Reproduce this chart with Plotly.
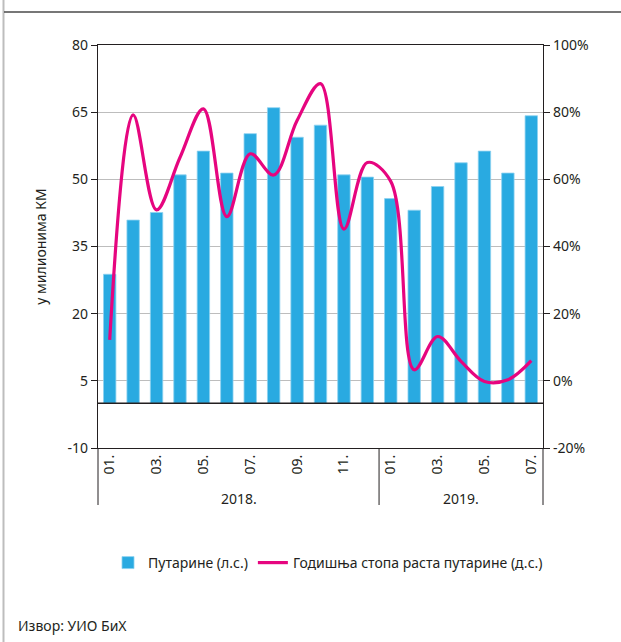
import plotly.graph_objects as go

# ---- data ----
periods = ["2018-01", "2018-02", "2018-03", "2018-04", "2018-05", "2018-06",
           "2018-07", "2018-08", "2018-09", "2018-10", "2018-11", "2018-12",
           "2019-01", "2019-02", "2019-03", "2019-04", "2019-05", "2019-06", "2019-07"]
month_labels = ["01.", "", "03.", "", "05.", "", "07.", "", "09.", "", "11.", "",
                "01.", "", "03.", "", "05.", "", "07."]
year_labels = ["2018.", "2019."]
tolls = [28.8, 40.9, 42.6, 51.0, 56.3, 51.4, 60.2, 66.0, 59.4, 62.1, 51.0, 50.5,
         45.7, 43.1, 48.4, 53.7, 56.3, 51.4, 64.2]
growth = [12.2, 79.2, 50.9, 66.5, 81.0, 48.9, 67.6, 61.3, 77.5, 88.5, 45.2, 65.0,
          59.4, 3.3, 13.2, 5.8, -0.2, 0.3, 6.0]
left_ticks = [-10, 5, 20, 35, 50, 65, 80]
left_tick_text = ["-10", "5", "20", "35", "50", "65", "80"]
right_ticks = [-20, 0, 20, 40, 60, 80, 100]
right_tick_text = ["-20%", "0%", "20%", "40%", "60%", "80%", "100%"]

W, H = 621, 642
L, R, T, B = 98, 543, 45, 448  # plot area in px


def px_x(x):
    return (x - L) / (R - L)


def px_y(y):
    return (B - y) / (B - T)


FONT = "Noto Sans"
TXT = "#231F20"

fig = go.Figure()
fig.add_trace(go.Bar(
    x=periods, y=tolls, name="Путарине (л.с.)",
    marker=dict(color="#29AAE1", line=dict(color="#8ED2F0", width=0.8)),
    yaxis="y",
))
fig.add_trace(go.Scatter(
    x=periods, y=growth, name="Годишња стопа раста путарине (д.с.)",
    mode="lines", line=dict(color="#E6057F", width=3.2, shape="spline", smoothing=1.0),
    yaxis="y2",
))

n = len(periods)
shapes = [
    # left page border
    dict(type="line", xref="paper", yref="paper", x0=px_x(3.5), x1=px_x(3.5),
         y0=px_y(0), y1=px_y(H), line=dict(color="#BDBDBD", width=2)),
    # top rule
    dict(type="line", xref="paper", yref="paper", x0=px_x(4), x1=px_x(W),
         y0=px_y(12), y1=px_y(12), line=dict(color="#4A4A4A", width=1.5)),
    # zero baseline above bars
    dict(type="line", xref="paper", yref="y", x0=0, x1=1, y0=0, y1=0,
         layer="above", line=dict(color="#231F20", width=1.5)),
]
# category-group separators
for k in [0, 12, n]:
    xp = k / n
    shapes.append(dict(type="line", xref="paper", yref="paper", x0=xp, x1=xp,
                       y0=0, y1=px_y(505), line=dict(color="#231F20", width=1)))

annotations = [
    dict(text=year_labels[0], xref="x", yref="paper", x=5.5, y=px_y(498),
         yanchor="middle", showarrow=False, font=dict(size=14, color=TXT, family=FONT)),
    dict(text=year_labels[1], xref="x", yref="paper", x=15, y=px_y(498),
         yanchor="middle", showarrow=False, font=dict(size=14, color=TXT, family=FONT)),
    dict(text="Извор: УИО БиХ", xref="paper", yref="paper", x=px_x(16), y=px_y(625),
         xanchor="left", yanchor="middle", showarrow=False,
         font=dict(size=14, color=TXT, family=FONT)),
]

fig.update_layout(
    width=W, height=H,
    margin=dict(l=L, r=W - R, t=T, b=H - B, pad=0, autoexpand=False),
    paper_bgcolor="white", plot_bgcolor="white",
    font=dict(family=FONT, size=14, color=TXT),
    bargap=0.47,
    showlegend=True,
    legend=dict(orientation="h", x=px_x(108), xanchor="left", y=px_y(547), yanchor="top",
                font=dict(size=14, color=TXT, family=FONT), itemwidth=30,
                traceorder="normal", bgcolor="rgba(0,0,0,0)"),
    xaxis=dict(
        type="category", tickmode="array", tickvals=periods, ticktext=month_labels,
        tickangle=-90, ticks="", showgrid=False, showline=True, linecolor="#231F20",
        linewidth=1.2, mirror=True, tickfont=dict(size=14, color=TXT),
        range=[-0.5, n - 0.5], fixedrange=True, automargin=False,
    ),
    yaxis=dict(
        range=[-10, 80], tickmode="array", tickvals=left_ticks, ticktext=left_tick_text,
        ticks="outside", ticklen=6, tickcolor="#231F20", tickwidth=1,
        showline=True, linecolor="#231F20", linewidth=1.2,
        showgrid=True, gridcolor="#BDBDBD", gridwidth=1.2,
        zeroline=False, automargin=False,
        title=dict(text="у милионима КМ", font=dict(size=14, color=TXT), standoff=17),
        tickfont=dict(size=14, color=TXT),
    ),
    yaxis2=dict(
        overlaying="y", side="right", range=[-20, 100], tickmode="array",
        tickvals=right_ticks, ticktext=right_tick_text, ticks="outside", ticklen=6,
        tickcolor="#231F20", showline=True, linecolor="#231F20", linewidth=1.2,
        showgrid=False, zeroline=False, tickfont=dict(size=14, color=TXT),
        automargin=False,
    ),
    shapes=shapes,
    annotations=annotations,
)

fig.write_html("out.html", config={"displayModeBar": False},
               post_script="document.body.style.margin='0';")
